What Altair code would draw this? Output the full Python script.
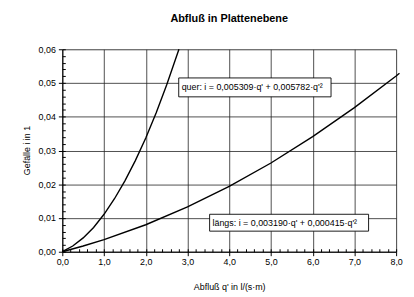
import altair as alt
import pandas as pd

# curve values
q_quer = [0.0, 0.25, 0.5, 0.75, 1.0, 1.25, 1.5, 1.75, 2.0, 2.25, 2.5, 2.795]
i_quer = [0.0, 0.0017, 0.0041, 0.0072, 0.0111, 0.0157, 0.0210, 0.0270, 0.0337, 0.0412, 0.0494, 0.0600]
q_laengs = [0.0, 0.5, 1.0, 2.0, 3.0, 4.0, 5.0, 6.0, 7.0, 8.0, 8.08]
i_laengs = [0.0, 0.0017, 0.0036, 0.0080, 0.0133, 0.0194, 0.0263, 0.0341, 0.0427, 0.0521, 0.0529]

x_ticks = [0, 1, 2, 3, 4, 5, 6, 7, 8]
y_ticks = [0.0, 0.01, 0.02, 0.03, 0.04, 0.05, 0.06]
x_minor = [round(k * 0.2, 2) for k in range(41)]
y_minor = [round(k * 0.002, 3) for k in range(31)]

box_labels = ["quer: i = 0,005309·q' + 0,005782·q'²",
              "längs: i = 0,003190·q' + 0,000415·q'²"]
box_x0 = [2.79, 3.53]
box_x1 = [6.44, 7.34]
box_y0 = [0.0459, 0.0061]
box_y1 = [0.0515, 0.0111]

df = pd.concat([
    pd.DataFrame({"q": q_quer, "i": i_quer, "series": "quer"}),
    pd.DataFrame({"q": q_laengs, "i": i_laengs, "series": "längs"}),
])
boxes = pd.DataFrame({"x0": box_x0, "x1": box_x1, "y0": box_y0, "y1": box_y1,
                      "label": box_labels})
boxes["ym"] = (boxes["y0"] + boxes["y1"]) / 2
boxes["xt"] = boxes["x0"] + 0.07

FONT = "Liberation Sans"
xs = alt.Scale(domain=[0, 8], nice=False, zero=False)
ys = alt.Scale(domain=[0, 0.06], nice=False, zero=False)

x_axis = alt.Axis(values=x_ticks, grid=True, gridColor="#222", gridWidth=0.8,
                  tickSize=4, tickColor="#000", domainColor="#000", labelFlush=False,
                  labelPadding=2, labelFontSize=9, labelFont=FONT, labelColor="#000",
                  labelExpr="replace(format(datum.value, '.1f'), '.', ',')",
                  title="Abfluß q'  in l/(s·m)", titleFont=FONT, titleFontSize=9,
                  titleFontWeight="normal", titleColor="#000", titleY=35,
                  titleBaseline="middle", orient="bottom")
y_axis = alt.Axis(values=y_ticks, grid=True, gridColor="#222", gridWidth=0.8,
                  tickSize=4, tickColor="#000", domainColor="#000", labelFlush=False,
                  labelPadding=3, labelFontSize=9, labelFont=FONT, labelColor="#000",
                  labelExpr="replace(format(datum.value, '.2f'), '.', ',')",
                  title="Gefälle  i  in  1", titleFont=FONT, titleFontSize=9,
                  titleFontWeight="normal", titleColor="#000", titleX=-36, titleY=102,
                  titleAngle=270, titleAlign="center", titleBaseline="middle",
                  orient="left")
x_axis_minor = alt.Axis(values=x_minor, grid=False, labels=False, domain=False,
                        tickSize=3, tickColor="#000", title=None, offset=-3,
                        orient="bottom")
y_axis_minor = alt.Axis(values=y_minor, grid=False, labels=False, domain=False,
                        tickSize=3, tickColor="#000", title=None, offset=-3,
                        orient="left")

lines = alt.Chart(df).mark_line(color="#000", strokeWidth=1.4).encode(
    x=alt.X("q:Q", scale=xs, axis=x_axis),
    y=alt.Y("i:Q", scale=ys, axis=y_axis),
    detail="series:N",
)
minor = alt.Chart(df).mark_point(opacity=0).encode(
    x=alt.X("q:Q", scale=xs, axis=x_axis_minor),
    y=alt.Y("i:Q", scale=ys, axis=y_axis_minor),
)
rects = alt.Chart(boxes).mark_rect(fill="white", stroke="#000", strokeWidth=0.9).encode(
    x=alt.X("x0:Q", scale=xs, axis=None),
    x2="x1:Q",
    y=alt.Y("y0:Q", scale=ys, axis=None),
    y2="y1:Q",
)
texts = alt.Chart(boxes).mark_text(align="left", baseline="middle", fontSize=9,
                                   font=FONT, color="#000").encode(
    x=alt.X("xt:Q", scale=xs, axis=None),
    y=alt.Y("ym:Q", scale=ys, axis=None),
    text="label:N",
)

chart = alt.layer(lines, minor, rects, texts).resolve_axis(
    x="independent", y="independent"
).properties(
    width=338, height=205,
    title=alt.TitleParams("Abfluß in Plattenebene", font=FONT, fontSize=11,
                          fontWeight="bold", color="#000", offset=22, anchor="middle"),
    autosize=alt.AutoSizeParams(type="none"),
    padding={"left": 55, "top": 40, "right": 10, "bottom": 40},
).configure_view(stroke="#333", strokeWidth=1).configure(background="white")

chart.save("out.html", embed_options={"renderer": "svg", "actions": False})
